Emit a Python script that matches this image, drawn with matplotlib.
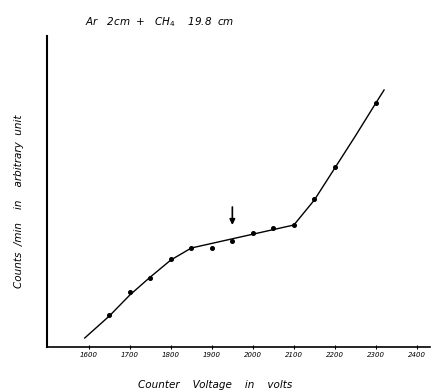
import matplotlib
matplotlib.use("Agg")
import matplotlib.pyplot as plt

# Measured points (voltage, counts in arbitrary units)
voltage = [1650, 1700, 1750, 1800, 1850, 1900, 1950, 2000, 2050, 2100, 2150, 2200, 2300]
counts = [32, 55, 69, 88, 99, 99, 106, 114, 119, 122, 148, 180, 244]

# Hand-drawn guide line through the points
fit_voltage = [1590, 1650, 1700, 1750, 1800, 1850, 2100, 2150, 2200, 2250, 2300, 2320]
fit_counts = [9, 31, 52, 70, 87, 99, 122, 147, 179, 211, 244, 257]

tick_values = [1600, 1700, 1800, 1900, 2000, 2100, 2200, 2300, 2400]
tick_labels = ["1600", "1700", "1800", "1900", "2000", "2100", "2200", "2300", "2400"]

arrow_voltage = 1950
arrow_from, arrow_to = 139, 122

title = "Ar   2cm  +   CH$_4$    19.8  cm"
xlabel = "Counter    Voltage    in    volts"
ylabel = "Counts  /min    in    arbitrary  unit"

fig = plt.figure(figsize=(4.37, 3.92), dpi=100)
ax = fig.add_axes([47/437, 1 - 347/392, (430-47)/437, (347-36)/392])

ax.plot(fit_voltage, fit_counts, color="black", lw=1.0)
ax.plot(voltage, counts, "o", color="black", ms=2.6)

ax.annotate("", xy=(arrow_voltage, arrow_to), xytext=(arrow_voltage, arrow_from + 1),
            arrowprops=dict(arrowstyle="-|>", color="black", lw=1.2, mutation_scale=8,
                            shrinkA=0, shrinkB=0))

ax.set_xlim(1498, 2432)
ax.set_ylim(0, 311)
ax.spines["top"].set_visible(False)
ax.spines["right"].set_visible(False)
ax.spines["left"].set_linewidth(1.5)
ax.spines["bottom"].set_linewidth(1.2)
ax.set_yticks([])
ax.set_xticks(tick_values)
ax.set_xticklabels(tick_labels, fontsize=5, style="italic")
ax.tick_params(axis="x", direction="inout", length=3, width=0.8, pad=2)

fig.text(85/437, 1 - 22/392, title, fontsize=7.5, style="italic", va="center", ha="left")
fig.text(215/437, 1 - 385/392, xlabel, fontsize=7.5, style="italic", va="center", ha="center")
fig.text(19/437, 1 - 201/392, ylabel, fontsize=7.5, style="italic", va="center", ha="center",
         rotation=90)

fig.savefig("out.png", dpi=100)
